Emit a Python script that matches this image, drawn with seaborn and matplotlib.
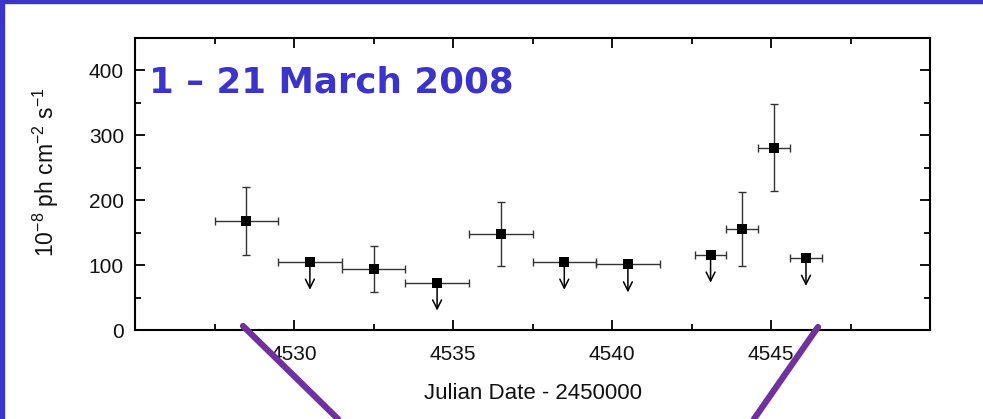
import matplotlib
matplotlib.use("Agg")
import matplotlib.pyplot as plt
import seaborn as sns
import pandas as pd
import numpy as np
from matplotlib.lines import Line2D
from matplotlib.patches import Rectangle

# ---- data ----
jd = [4528.5, 4530.5, 4532.5, 4534.5, 4536.5, 4538.5, 4540.5, 4543.1, 4544.1, 4545.1, 4546.1]
flux = [168, 105, 94, 73, 148, 105, 101, 116, 155, 281, 111]
x_halfwidth = [1.0, 1.0, 1.0, 1.0, 1.0, 1.0, 1.0, 0.5, 0.5, 0.5, 0.5]
y_err = [53, 0, 36, 0, 49, 0, 0, 0, 57, 67, 0]
upper_limit = [False, True, False, True, False, True, True, True, False, False, True]

x_ticks = [4530, 4535, 4540, 4545]
y_ticks = [0, 100, 200, 300, 400]
title_text = "1 \u2013 21 March 2008"
x_label = "Julian Date - 2450000"
y_label = r"10$^{\mathregular{-8}}$ ph cm$^{\mathregular{-2}}$ s$^{\mathregular{-1}}$"

df = pd.DataFrame({"jd": jd, "flux": flux, "xw": x_halfwidth,
                   "yerr": y_err, "ul": upper_limit})

sns.set_theme(style="ticks")
plt.rcParams["font.family"] = ["Liberation Sans", "DejaVu Sans"]

fig = plt.figure(figsize=(9.83, 4.19), dpi=100)
ax = fig.add_axes([135 / 983, 1 - 330 / 419, (930 - 135) / 983, (330 - 38) / 419])

# error bars
ax.errorbar(df["jd"], df["flux"], xerr=df["xw"],
            yerr=np.where(df["ul"], 0, df["yerr"]),
            fmt="none", ecolor="#333333", elinewidth=1.0, capsize=3, capthick=1.0, zorder=2)
sns.scatterplot(data=df, x="jd", y="flux", marker="s", s=50, color="black",
                edgecolor="black", linewidth=0, ax=ax, zorder=3, legend=False)

# upper-limit arrows
for _, r in df[df["ul"]].iterrows():
    ax.annotate("", xy=(r["jd"], r["flux"] - 43), xytext=(r["jd"], r["flux"]),
                arrowprops=dict(arrowstyle="->", color="black", lw=1.1,
                                mutation_scale=16, shrinkA=0, shrinkB=0), zorder=2)

ax.set_xlim(4525, 4550)
ax.set_ylim(0, 450)
ax.set_xticks([4525] + x_ticks + [4550])
ax.set_xticklabels([""] + [str(t) for t in x_ticks] + [""])
ax.set_xticks(np.arange(4527.5, 4550, 5), minor=True)
ax.set_yticks(y_ticks)
ax.set_yticks(np.arange(50, 450, 100), minor=True)
ax.tick_params(which="both", direction="in", top=True, right=True, color="black")
ax.tick_params(which="major", length=7, width=1.3, labelsize=15, labelcolor="#111111")
ax.tick_params(axis="x", which="major", pad=11)
ax.tick_params(axis="y", which="major", pad=8)
ax.tick_params(which="minor", length=4, width=1.3)
for s in ax.spines.values():
    s.set_linewidth(1.5)
    s.set_color("black")

ax.set_xlabel(x_label, fontsize=16, color="#111111")
ax.xaxis.set_label_coords(0.5, -53 / 292)
ax.set_ylabel(y_label, fontsize=16.5, color="#111111")
ax.yaxis.set_label_coords(-74 / 795, (330 - 172) / 292)

ax.text(0.018, (330 - 82) / 292, title_text, transform=ax.transAxes, fontsize=25.7,
        fontweight="bold", color="#3a33cc", family=["DejaVu Sans"], va="center", ha="left")

# slide decoration: frame and purple zoom lines
fig.patches.append(Rectangle((0, 1 - 3 / 419), 1, 3 / 419, transform=fig.transFigure,
                             color="#3a33cc", zorder=10))
fig.patches.append(Rectangle((0, 0), 4 / 983, 1, transform=fig.transFigure,
                             color="#3a33cc", zorder=10))
fig.lines.append(Line2D([243 / 983, 338 / 983], [1 - 326 / 419, 0], transform=fig.transFigure,
                        color="#7030a0", lw=4.5, zorder=10))
fig.lines.append(Line2D([818 / 983, 754 / 983], [1 - 327 / 419, 0], transform=fig.transFigure,
                        color="#7030a0", lw=4.5, zorder=10))

fig.savefig("out.png", dpi=100)
